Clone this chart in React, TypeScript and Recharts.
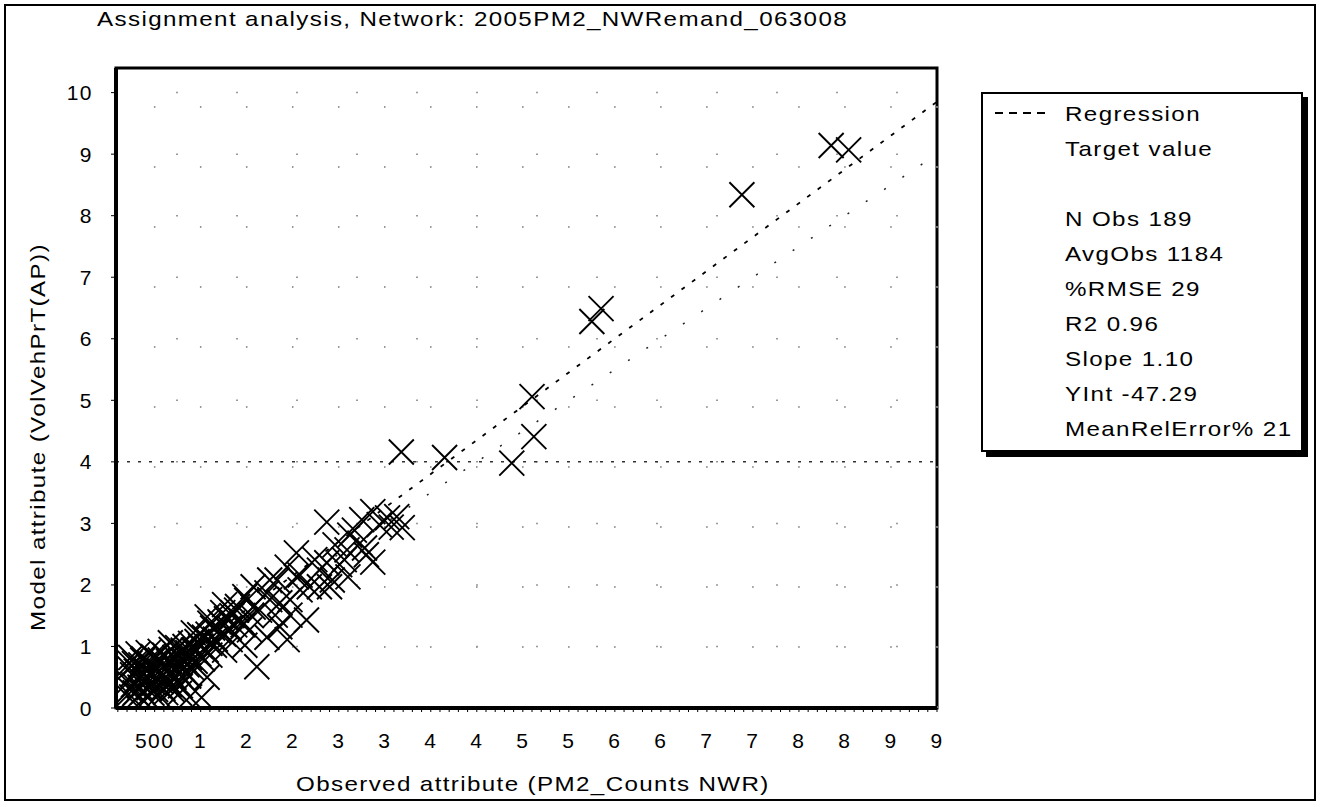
import React from 'react';
import { ComposedChart, Scatter, XAxis, YAxis, ReferenceLine, ReferenceArea } from 'recharts';

// ---- axis ticks ----
const xTicks = [500, 1000, 1500, 2000, 2500, 3000, 3500, 4000, 4500, 5000, 5500, 6000, 6500, 7000, 7500, 8000, 8500, 9000];
const yTicks = [0, 1000, 2000, 3000, 4000, 5000, 6000, 7000, 8000, 9000, 10000];
const xDomain = [80, 9000];
const yDomain = [0, 10400];

// ---- regression (from the legend) ----
const regSlope = 1.1;
const regInt = -47.29;
// ---- target value line (model = observed) ----
const targetObs = [80, 9000];
const targetModel = [80, 9000];

const legendStats = ['N Obs 189', 'AvgObs 1184', '%RMSE 29', 'R2 0.96', 'Slope 1.10', 'YInt -47.29', 'MeanRelError% 21'];

// ---- observations: dense cluster near origin ----
const clusterObs = [200,210,220,230,240,250,260,270,280,290,300,310,320,330,340,350,360,370,380,390,400,410,420,430,440,450,460,470,480,490,500,510,520,530,540,550,560,570,580,590,600,610,620,630,640,650,660,670,680,690,700,710,720,730,740,750,760,770,780,790,800,810,820,830,840,850,860,870,880,890,900,920,940,960,980,1000,1020,1040,1060,1080,1100,1130,1160,1190,1220,1250,1280,1310,1340,1370,1400,1450,1500,1550,560,370,230,880,770,1070,1010];
const clusterModel = [200,420,650,300,820,180,540,380,720,250,600,460,880,200,340,700,520,260,800,420,620,190,480,900,330,720,560,240,840,400,650,300,500,780,210,600,920,430,700,320,540,860,250,660,450,760,380,580,950,300,700,500,820,620,420,980,560,720,360,880,640,480,780,1000,580,700,900,520,820,1050,660,940,760,1080,880,1000,800,1150,940,1200,1050,1300,1120,1250,1380,1200,1450,1300,1500,1350,1650,1400,1750,1500,780,780,730,180,240,500,170];

// ---- observations: middle band ----
const midObs = [2370,2870,3030,3130,3190,2040,2730,2800,2870,2590,2510,2600,2370,2430,2290,1940,1830,2040,1570,1720,1860,2180,2400,2150,1350,1210,1460,1070,1610,1530,1720,1860,1940,1390,1570,1750,1100,1240,920,810,670,2080,2240,2670,2940,2750,2620,2460,2080,1970,1640,1480,1260,1430,1810,1970,1320,1150,990,940,1100,1260,1480,2290,2560,2780,3070,1750];
const midModel = [3020,3190,3090,3110,2930,2520,2680,2490,2370,2570,2330,2130,2360,2080,1970,2290,2080,2130,1970,1870,1710,1970,1970,1430,1550,1400,1350,1480,670,1270,1150,1320,1110,1590,1640,1760,1380,1550,1220,940,1060,2160,2410,2890,2980,3060,2810,2650,1920,1760,1590,1810,1680,1430,1510,1510,1110,1020,1190,940,860,940,1020,2240,2410,2600,2940,2080];

// ---- observations: outliers ----
const outObs = [7850, 8040, 6880, 5250, 5350, 4600, 4620, 4380, 3650, 3180];
const outModel = [9140, 9070, 8340, 6280, 6490, 5060, 4410, 3980, 4070, 4160];

const zip = (a: number[], b: number[]) => a.map((x, i) => ({ x, y: b[i] }));
const points = [...zip(clusterObs, clusterModel), ...zip(midObs, midModel), ...zip(outObs, outModel)];
const regSegment = [
  { x: xDomain[0], y: regSlope * xDomain[0] + regInt },
  { x: xDomain[1], y: regSlope * xDomain[1] + regInt },
];
const targetSegment = zip(targetObs, targetModel);

const FONT = '"Liberation Sans", Arial, sans-serif';
const FS = 21;
const LS = 1.2;
const SX = 1.15;

const XMark = (props: any) => {
  const { cx, cy } = props;
  if (cx == null || cy == null) return <g />;
  const s = 12.5;
  return (
    <path
      d={`M${cx - s},${cy - s}L${cx + s},${cy + s}M${cx + s},${cy - s}L${cx - s},${cy + s}`}
      stroke="#000"
      strokeWidth={1.9}
      fill="none"
    />
  );
};

const minorTicks = Array.from({ length: 90 }, (_, i) => (i + 1) * 100);

const XTick = (props: any) => {
  const { x, y, payload } = props;
  const v = payload.value;
  if (v % 500 !== 0) return <g />;
  const label = v === 500 ? '500' : String(Math.round(v / 1000));
  return (
    <text x={x} y={y} dy="0.71em" textAnchor="middle" fill="#000" fontSize={FS} fontFamily={FONT} letterSpacing={1.5}>
      {label}
    </text>
  );
};

const YTick = (props: any) => {
  const { x, y, payload } = props;
  return (
    <text x={x} y={y} dy="0.36em" textAnchor="end" fill="#000" fontSize={FS} fontFamily={FONT} letterSpacing={1.5}>
      {String(payload.value / 1000)}
    </text>
  );
};

const Wide = ({ children }: { children: React.ReactNode }) => (
  <span
    style={{
      display: 'inline-block',
      fontSize: FS,
      letterSpacing: LS,
      transform: `scaleX(${SX})`,
      transformOrigin: 'left center',
      whiteSpace: 'nowrap',
    }}
  >
    {children}
  </span>
);

export default function App() {
  const rows: { text: string; sample?: boolean }[] = [
    { text: 'Regression', sample: true },
    { text: 'Target value' },
    { text: '' },
    ...legendStats.map((t) => ({ text: t })),
  ];
  const rowH = 35;
  return (
    <div style={{ position: 'absolute', left: 0, top: 0, width: 1321, height: 807, background: '#fff', fontFamily: FONT, color: '#000', overflow: 'hidden' }}>
      <div style={{ position: 'absolute', left: 4, top: 4, width: 1312, height: 797, border: '2px solid #000', boxSizing: 'border-box' }} />
      <div style={{ position: 'absolute', left: 0, top: 0 }}>
        <ComposedChart width={1321} height={807} margin={{ top: 68, right: 384, bottom: 59, left: 0 }} data={points}>
          <XAxis
            type="number"
            dataKey="x"
            domain={xDomain}
            ticks={minorTicks}
            interval={0}
            tick={<XTick />}
            tickSize={4}
            tickMargin={21}
            height={40}
            axisLine={{ stroke: '#000', strokeWidth: 4 }}
            tickLine={{ stroke: '#000', strokeWidth: 1 }}
            allowDataOverflow
          />
          <YAxis
            type="number"
            dataKey="y"
            domain={yDomain}
            ticks={yTicks}
            interval={0}
            width={116}
            tick={<YTick />}
            tickSize={5}
            tickMargin={18}
            axisLine={{ stroke: '#000', strokeWidth: 4 }}
            tickLine={{ stroke: '#000', strokeWidth: 1 }}
            allowDataOverflow
          />
          {yTicks.slice(1).map((v) => (
            <ReferenceLine key={'gy' + v} y={v} stroke="#999" strokeWidth={1.5} strokeDasharray="2 58" />
          ))}
          {xTicks.map((v) => (
            <ReferenceLine key={'gx' + v} x={v} stroke="#999" strokeWidth={1.5} strokeDasharray="2 58" />
          ))}
          <ReferenceLine y={4000} stroke="#333" strokeWidth={1.5} strokeDasharray="3 8" />
          <ReferenceArea x1={xDomain[0]} x2={xDomain[1]} y1={yDomain[0]} y2={yDomain[1]} fill="none" stroke="#000" strokeWidth={3} />
          <ReferenceLine segment={targetSegment} stroke="#222" strokeWidth={1.5} strokeDasharray="2 20" />
          <ReferenceLine segment={regSegment} stroke="#000" strokeWidth={1.8} strokeDasharray="4 9" />
          <Scatter data={points} dataKey="y" shape={<XMark />} isAnimationActive={false} />
        </ComposedChart>
      </div>

      {/* title */}
      <div style={{ position: 'absolute', left: 97, top: 8, lineHeight: '21px' }}>
        <Wide>Assignment analysis, Network: 2005PM2_NWRemand_063008</Wide>
      </div>

      {/* x axis title */}
      <div style={{ position: 'absolute', left: 296, top: 773, lineHeight: '21px' }}>
        <Wide>Observed attribute (PM2_Counts NWR)</Wide>
      </div>

      {/* y axis title */}
      <div
        style={{
          position: 'absolute',
          left: 38 - 250,
          top: 437 - 10,
          width: 500,
          fontSize: FS,
          lineHeight: '20px',
          letterSpacing: LS,
          textAlign: 'center',
          whiteSpace: 'nowrap',
          transform: `rotate(-90deg) scaleX(${SX})`,
          transformOrigin: '250px 10px',
        }}
      >
        Model attribute (VolVehPrT(AP))
      </div>

      {/* legend */}
      <div
        style={{
          position: 'absolute',
          left: 981,
          top: 92,
          width: 322,
          height: 360,
          border: '2px solid #000',
          boxSizing: 'border-box',
          background: '#fff',
          boxShadow: '5px 5px 0 #000',
        }}
      >
        {rows.map((r, i) => (
          <div key={i} style={{ position: 'absolute', left: 0, top: 1.5 + i * rowH, height: rowH, width: 318 }}>
            {r.sample && (
              <svg style={{ position: 'absolute', left: 12, top: rowH / 2 - 2 }} width={53} height={4}>
                <line x1={0} y1={2} x2={53} y2={2} stroke="#000" strokeWidth={2} strokeDasharray="8 6" />
              </svg>
            )}
            <div style={{ position: 'absolute', left: 82, top: 0, lineHeight: rowH + 'px' }}>
              <Wide>{r.text}</Wide>
            </div>
          </div>
        ))}
      </div>
    </div>
  );
}
